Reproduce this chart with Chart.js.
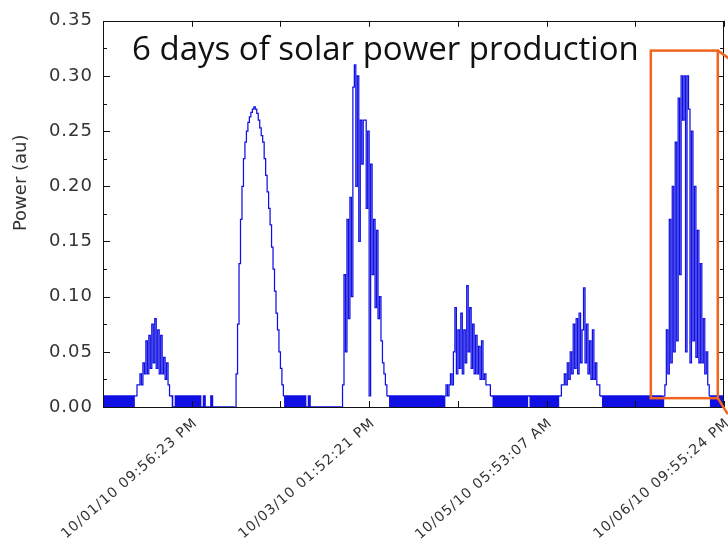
<!DOCTYPE html>
<html>
<head>
<meta charset="utf-8">
<script src="https://cdn.jsdelivr.net/npm/chart.js@4.4.1/dist/chart.umd.min.js"></script>
<style>
  html, body { margin: 0; padding: 0; background: #fff; }
  canvas { display: block; }
</style>
</head>
<body>
<canvas id="solar" width="728" height="541"></canvas>
<script>
// Power readings (au), one sample every 20 minutes, split per day of logging.
const day1 = [0,.01,0,.01,0,.01,0,.01,0,.01,0,.01,0,.01,0,.01,0,.01,0,.01,0,.01,
  .01,.02,.02,.03,.02,.04,.03,.06,.03,.065,.035,.075,.04,.08,.035,.07,.03,.065,.03,.045,.025,.04,.02,.01,.01,0,0,
  .01,0,.01,0,.01,0,.01,0,.01,0,.01,0,.01,0,.01,
  0,.01,0,0,.01,0,0,0];
const day2 = [0,.01,0,0,
  0,0,0,0,0,0,0,0,0,0,0,0,0,0,
  .03,.075,.13,.17,.20,.225,.24,.25,.258,.263,.267,.27,.272,.27,.266,.26,.253,.246,.24,.225,.21,.195,.18,.165,.145,.125,.105,.085,.07,.05,.035,.02,.01,
  0,.01,0,.01,0,.01,0,.01,0,.01,0,
  .01,0,.01,0,0,.01,
  0,0,0,0];
const day3 = [0,0,0,0,0,0,0,0,0,0,0,0,0,0,0,0,0,0,
  .02,.12,.05,.17,.08,.19,.10,.29,.31,.20,.30,.15,.26,.22,.26,.26,.18,.25,.01,.22,.12,.17,.09,.16,.08,.10,.06,.04,.03,.02,.01,
  .01,0,.01,0,.01,0,.01,0,.01,0,.01,0,.01,0,.01,0,.01,0,.01,0,.01,0,.01];
const day4 = [0,.01,0,.01,0,.01,0,.01,0,.01,0,.01,0,.01,0,
  .01,.02,.01,.02,.03,.02,.05,.09,.03,.07,.035,.085,.03,.07,.04,.11,.05,.09,.035,.075,.03,.065,.03,.055,.025,.06,.025,.03,.02,.02,.02,.01,.01,
  0,.01,0,.01,0,.01,0,.01,0,.01,0,.01,0,.01,0,.01,0,.01,0,.01,0,.01,0,.01];
const day5 = [.01,0,.01,0,.01,0,.01,0,.01,0,.01,0,.01,0,.01,0,.01,0,.01,0,.01,
  .01,.02,.02,.03,.02,.04,.025,.05,.03,.075,.035,.08,.03,.085,.04,.07,.108,.04,.075,.03,.06,.025,.07,.025,.04,.02,.02,.01,
  .01,0,.01,0,.01,0,.01,0,.01,0,.01,0,.01,0,.01,0,.01,0,.01,0,.01,0,.01];
const day6 = [0,.01,0,.01,0,.01,0,.01,0,.01,0,.01,0,.01,0,.01,0,.01,0,.01,
  .02,.07,.03,.17,.04,.20,.05,.24,.06,.28,.12,.30,.26,.30,.05,.30,.27,.04,.25,.06,.20,.045,.16,.04,.13,.04,.08,.03,.05,.02,.01,
  0,.01,0,.01,0,.01,0,.01,0,.01];

const sampleMinutes = 20;

// Time axis (hours from start of log): tick marks and the timestamps printed under some of them.
const tickHours = [20, 40, 60, 80, 100, 120, 140];
const labelHours = [20, 60, 100, 140];
const labelTexts = ['10/01/10 09:56:23 PM', '10/03/10 01:52:21 PM', '10/05/10 05:53:07 AM', '10/06/10 09:55:24 PM'];

// Power axis.
const yMin = 0, yMax = 0.35, yStep = 0.05, yMinorStep = 0.025;

const titleText = '6 days of solar power production';
const yTitle = 'Power (au)';

// Highlighted last day (hours, power).
const zoomBox = { x0: 123.5, x1: 138.6, y0: 0.008, y1: 0.323 };

const power = [].concat(day1, day2, day3, day4, day5, day6);
const points = power.map((v, i) => ({ x: i * sampleMinutes / 60, y: v }));

// Night-time flicker (readings at or below 0.01) is stroked a little heavier.
const nightLevel = 0.01;

// Slightly tracked-out lettering for the axis labels.
const spacing = {
  id: 'spacing',
  beforeDraw(chart) { chart.ctx.letterSpacing = '1px'; }
};

const decorations = {
  id: 'decorations',
  afterDatasetsDraw(chart) {
    const { ctx, chartArea: a, scales: { x, y } } = chart;
    ctx.save();
    ctx.letterSpacing = '0px';

    // frame
    ctx.strokeStyle = '#111';
    ctx.lineWidth = 1;
    ctx.strokeRect(Math.round(a.left) + 0.5, Math.round(a.top) + 0.5,
                   Math.round(a.right - a.left) - 1, Math.round(a.bottom - a.top));

    // inward tick marks on the power axis (left and right)
    ctx.beginPath();
    const nMinor = Math.round((yMax - yMin) / yMinorStep);
    for (let k = 0; k <= nMinor; k++) {
      const v = yMin + k * yMinorStep;
      const py = Math.round(y.getPixelForValue(v)) + 0.5;
      const len = (k % Math.round(yStep / yMinorStep) === 0) ? 7 : 4;
      ctx.moveTo(a.left, py); ctx.lineTo(a.left + len, py);
      ctx.moveTo(a.right, py); ctx.lineTo(a.right - len, py);
    }
    // inward tick marks on the time axis (top and bottom)
    tickHours.forEach(h => {
      const px = Math.round(x.getPixelForValue(h)) + 0.5;
      ctx.moveTo(px, a.top); ctx.lineTo(px, a.top + 6);
      ctx.moveTo(px, a.bottom); ctx.lineTo(px, a.bottom - 6);
    });
    ctx.stroke();

    // highlight box around the last day, with leader lines to the right
    const bx0 = x.getPixelForValue(zoomBox.x0), bx1 = x.getPixelForValue(zoomBox.x1);
    const by0 = y.getPixelForValue(zoomBox.y1), by1 = y.getPixelForValue(zoomBox.y0);
    ctx.strokeStyle = '#f0641e';
    ctx.lineWidth = 2.5;
    ctx.strokeRect(bx0, by0, bx1 - bx0, by1 - by0);
    ctx.beginPath();
    ctx.moveTo(bx1, by0); ctx.lineTo(bx1 + 14, by0 + 10);
    ctx.moveTo(bx1, by1); ctx.lineTo(bx1 + 10, by1 + 16);
    ctx.stroke();

    // caption inside the plot
    ctx.fillStyle = '#111';
    ctx.font = '33px "Open Sans"';
    ctx.textAlign = 'left';
    ctx.textBaseline = 'alphabetic';
    ctx.fillText(titleText, a.left + 29, a.top + 39);

    // axis title
    ctx.font = '18px "DejaVu Sans"';
    ctx.fillStyle = '#333';
    ctx.textAlign = 'center';
    ctx.textBaseline = 'middle';
    ctx.translate(21, a.top + 162);
    ctx.rotate(-Math.PI / 2);
    ctx.fillText(yTitle, 0, 0);

    ctx.restore();
  }
};

new Chart(document.getElementById('solar'), {
  type: 'line',
  data: {
    datasets: [{
      data: points,
      borderColor: '#1010e4',
      borderWidth: 1.25,
      pointRadius: 0,
      stepped: true,
      fill: false,
      segment: {
        borderWidth: c => (c.p0.parsed.y <= nightLevel && c.p1.parsed.y <= nightLevel) ? 1.6 : 1.25
      }
    }]
  },
  options: {
    responsive: false,
    animation: false,
    devicePixelRatio: 1,
    layout: { padding: { left: 0, right: 4, top: 17, bottom: 0 } },
    plugins: { legend: { display: false }, tooltip: { enabled: false } },
    scales: {
      x: {
        type: 'linear',
        min: 0,
        max: 140,
        grid: { display: false, drawTicks: false },
        border: { display: false },
        afterBuildTicks: s => { s.ticks = tickHours.map(v => ({ value: v })); },
        ticks: {
          autoSkip: false,
          minRotation: 41,
          maxRotation: 41,
          padding: 8,
          labelOffset: 4,
          color: '#333',
          font: { family: 'DejaVu Sans', size: 14 },
          callback: v => {
            const k = labelHours.indexOf(v);
            return k < 0 ? '' : labelTexts[k];
          }
        },
        afterFit: s => { s.height = 134; s.paddingLeft = 0; s.paddingRight = 0; }
      },
      y: {
        min: yMin,
        max: yMax,
        grid: { display: false, drawTicks: false },
        border: { display: false },
        ticks: {
          stepSize: yStep,
          padding: 10,
          color: '#333',
          font: { family: 'DejaVu Sans', size: 18 },
          callback: v => v.toFixed(2)
        },
        afterFit: s => { s.width = 103; }
      }
    }
  },
  plugins: [spacing, decorations]
});
</script>
</body>
</html>
